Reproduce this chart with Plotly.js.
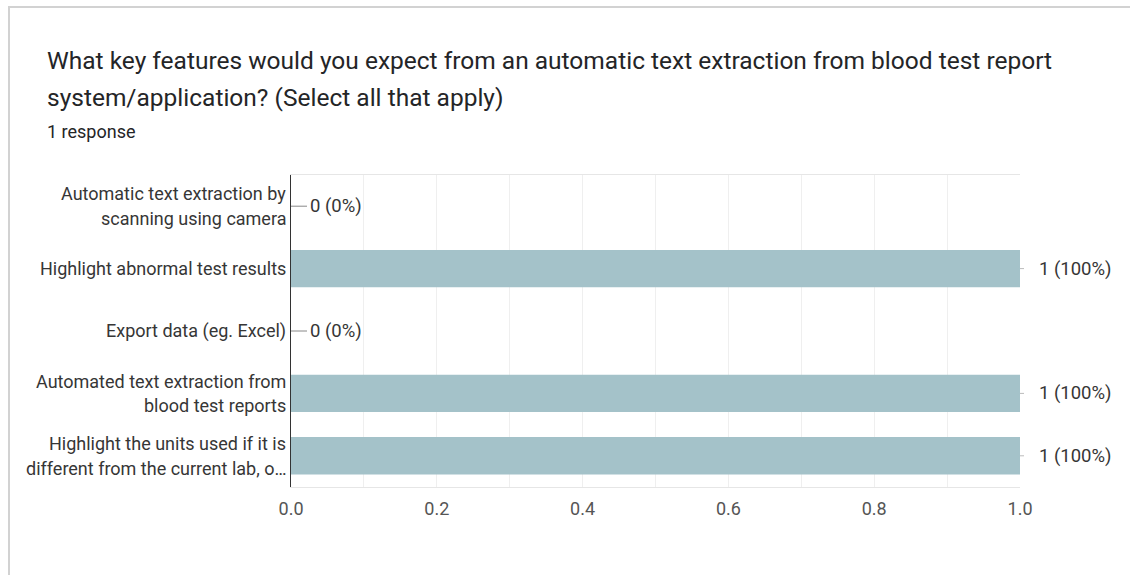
<!DOCTYPE html>
<html>
<head>
<meta charset="utf-8">
<script src="https://cdn.plot.ly/plotly-3.0.1.min.js"></script>
<style>
  html, body { margin: 0; padding: 0; background: #fff; }
  #card { position: absolute; left: 8px; top: 6px; width: 1200px; height: 700px;
          border-top: 2px solid #d2d2d2; border-left: 2px solid #d2d2d2; }
  #chart { position: absolute; left: 0; top: 0; width: 1130px; height: 575px; }
</style>
</head>
<body>
<div id="card"></div>
<div id="chart"></div>
<script>
// Survey question and summary
const questionLines = [
  "What key features would you expect from an automatic text extraction from blood test report",
  "system/application? (Select all that apply)"
];
const responseCount = 1;

// Answer options (top to bottom) and how many respondents picked each
const categories = [
  "Automatic text extraction by<br>scanning using camera",
  "Highlight abnormal test results",
  "Export data (eg. Excel)",
  "Automated text extraction from<br>blood test reports",
  "Highlight the units used if it is<br>different from the current lab, o…"
];
const counts = [0, 1, 0, 1, 1];

// Page / plot geometry
const W = 1130, H = 575;
const M = { l: 291, r: 110, t: 175, b: 88 };
const pw = W - M.l - M.r, ph = H - M.t - M.b;
const px2x = px => (px - M.l) / pw;
const py2y = py => 1 - (py - M.t) / ph;

const FONT = "Roboto, Arial, sans-serif";
const annotations = [];

// Question title (two lines) and response count
const titleY = [61, 97.5];
questionLines.forEach((line, i) => {
  annotations.push({
    text: line, xref: "paper", yref: "paper",
    x: px2x(45), y: py2y(titleY[i]), xanchor: "left", yanchor: "middle",
    showarrow: false, font: { family: FONT, size: 24.5, color: "#242527" }
  });
});
annotations.push({
  text: responseCount + (responseCount === 1 ? " response" : " responses"),
  xref: "paper", yref: "paper",
  x: px2x(45), y: py2y(131), xanchor: "left", yanchor: "middle",
  showarrow: false, font: { family: FONT, size: 18, color: "#242527" }
});

// Category labels, right-aligned next to the axis, with roomy line spacing
const LINE_GAP = 24.5;
categories.forEach(cat => {
  const lines = cat.split("<br>");
  lines.forEach((ln, j) => {
    annotations.push({
      text: ln, xref: "paper", yref: "y",
      x: 0, y: cat, xanchor: "right", yanchor: "middle", xshift: -3,
      yshift: ((lines.length - 1) / 2 - j) * LINE_GAP,
      showarrow: false, font: { family: FONT, size: 18, color: "#363636" }
    });
  });
});

// Value labels "n (p%)" with a short leader line
categories.forEach((cat, i) => {
  const v = counts[i];
  const pct = Math.round(v / responseCount * 100);
  annotations.push({
    text: v + " (" + pct + "%)", xref: "x", yref: "y",
    x: v, y: cat, xanchor: "left", yanchor: "middle",
    showarrow: true, arrowhead: 0, arrowwidth: 1,
    arrowcolor: v > 0 ? "#bbbbbb" : "#888888",
    ax: 17, ay: 0, standoff: 0, startstandoff: v > 0 ? 13 : 1,
    font: { family: FONT, size: 18.5, color: "#363636" }
  });
});

const trace = {
  type: "bar", orientation: "h",
  x: counts, y: categories,
  marker: { color: "#a4c2c9" },
  hoverinfo: "none"
};

const layout = {
  width: W, height: H,
  margin: M,
  paper_bgcolor: "rgba(0,0,0,0)", plot_bgcolor: "rgba(0,0,0,0)",
  showlegend: false, bargap: 0.4,
  font: { family: FONT },
  xaxis: {
    range: [0, 1], dtick: 0.2, tickformat: ".1f", fixedrange: true,
    showgrid: true, gridcolor: "#efefef", gridwidth: 1,
    minor: { dtick: 0.1, showgrid: true, gridcolor: "#efefef", gridwidth: 1 },
    showline: true, mirror: true, linecolor: "#e6e6e6", linewidth: 1,
    zeroline: false, ticks: "", ticklabelstandoff: 5,
    tickfont: { family: FONT, size: 18, color: "#555555" }
  },
  yaxis: {
    type: "category", autorange: "reversed", fixedrange: true,
    showgrid: false, zeroline: false, showticklabels: false, ticks: "",
    showline: true, linecolor: "#333333", linewidth: 1.5
  },
  annotations: annotations
};

Plotly.newPlot("chart", [trace], layout, { displayModeBar: false, staticPlot: true });
</script>
</body>
</html>
